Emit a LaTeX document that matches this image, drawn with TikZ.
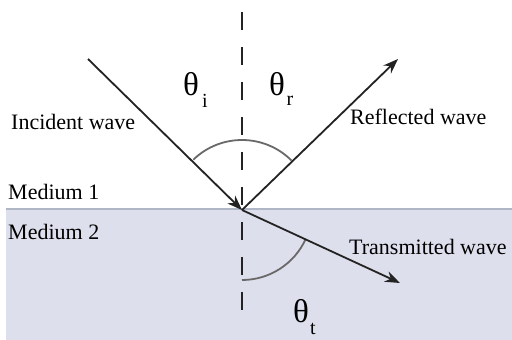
\documentclass[tikz,border=0pt]{standalone}
\usepackage{fontspec}
\setmainfont{Liberation Serif}
\usetikzlibrary{arrows.meta}
\definecolor{medtwo}{RGB}{222,223,237}
\definecolor{edgeline}{RGB}{175,182,198}
\definecolor{raycol}{RGB}{35,35,35}
\definecolor{arccol}{RGB}{105,105,105}
\begin{document}
\begin{tikzpicture}[x=1pt,y=-1pt,
  ray/.style={draw=raycol,line width=1.8pt,-{Stealth[length=15pt,width=11pt]}},
  anglearc/.style={draw=arccol,line width=1.8pt},
  normalline/.style={draw=raycol,line width=2.6pt,dash pattern=on 18pt off 17pt},
  lbl/.style={font=\rmfamily\fontsize{22}{25}\selectfont,text=black,inner sep=0pt},
  theta/.style={font=\rmfamily\fontsize{33}{36}\selectfont,inner sep=0pt},
  subs/.style={font=\rmfamily\fontsize{20}{22}\selectfont,inner sep=0pt}]
\useasboundingbox (0,0) rectangle (512,340);
\fill[white] (0,0) rectangle (512,340);
\fill[medtwo] (6,209) rectangle (512,340);
\draw[edgeline,line width=1.2pt] (6,209) -- (512,209);
\coordinate (O) at (242,210);
\coordinate (top) at (242,12);
\coordinate (bot) at (242,318);
\coordinate (inc) at (88,59);
\coordinate (refl) at (398,59);
\coordinate (trans) at (400,283);
\draw[normalline] (top) -- (bot);
\draw[anglearc] (O) ++(-134:70) arc[start angle=-134,end angle=-45,radius=70];
\draw[anglearc] (O) ++(90:70) arc[start angle=90,end angle=24.8,radius=70];
\draw[ray] (inc) -- (O);
\draw[ray] (O) -- (refl);
\draw[ray] (O) -- (trans);
\node[lbl,anchor=west] (incl) at (11,122) {Incident wave};
\node[lbl,anchor=west] (refll) at (350,117) {Reflected wave};
\node[lbl,anchor=west] (m1) at (8,192) {Medium 1};
\node[lbl,anchor=west] (m2) at (8,232) {Medium 2};
\node[lbl,anchor=west] (transl) at (349,247) {Transmitted wave};
\node[theta] (ti) at (191,84) {θ};
\node[subs] (tis) at (205,101) {i};
\node[theta] (tr) at (277,84) {θ};
\node[subs] (trs) at (290,101) {r};
\node[theta] (tt) at (301,311) {θ};
\node[subs] (tts) at (313,329) {t};
\end{tikzpicture}
\end{document}
